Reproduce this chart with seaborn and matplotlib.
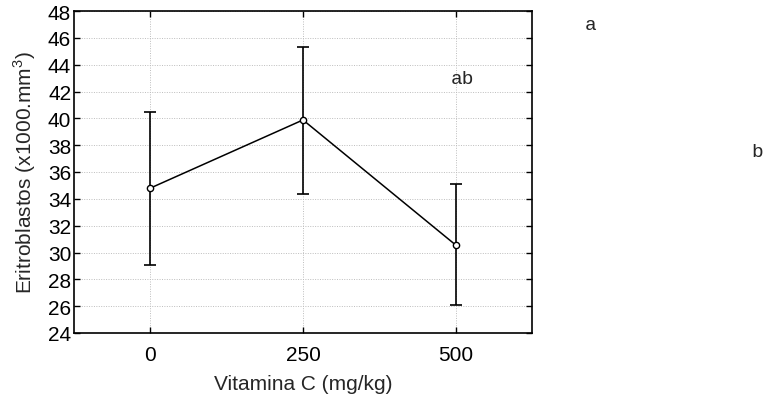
import matplotlib
matplotlib.use("Agg")
import matplotlib.pyplot as plt
import seaborn as sns
import pandas as pd

doses = [0, 250, 500]
means = [34.8, 39.88, 30.56]
err_upper = [40.47, 45.32, 35.1]
err_lower = [29.07, 34.36, 26.09]
letters = ["a", "ab", "b"]

sns.set_theme(style="white")
plt.rcParams["font.family"] = ["Liberation Sans", "DejaVu Sans"]
plt.rcParams["mathtext.fontset"] = "custom"
plt.rcParams["mathtext.rm"] = "Liberation Sans"

df = pd.DataFrame({"dose": doses, "mean": means})

fig = plt.figure(figsize=(7.63, 4.02), dpi=100)
ax = fig.add_axes([74 / 763, 1 - 334 / 402, (532 - 74) / 763, (334 - 12) / 402])

yerr = [[m - lo for m, lo in zip(means, err_lower)], [hi - m for m, hi in zip(means, err_upper)]]
ax.errorbar(doses, means, yerr=yerr, fmt="none", ecolor="black", elinewidth=1.2,
            capsize=4.3, capthick=1.2, zorder=2)
sns.lineplot(data=df, x="dose", y="mean", ax=ax, color="black", linewidth=1.1,
             marker="o", markersize=4.5, markerfacecolor="white",
             markeredgecolor="black", markeredgewidth=1.0, zorder=3)

ax.set_xlim(-125, 625)
ax.set_ylim(24, 48)
ax.set_xticks(doses)
ax.set_xticklabels([str(d) for d in doses])
ax.set_yticks(range(24, 49, 2))
ax.grid(True, color="#bdbdbd", linestyle=(0, (1, 1.5)), linewidth=0.7)
ax.set_axisbelow(True)
for s in ax.spines.values():
    s.set_color("black")
    s.set_linewidth(1.2)
    s.set_visible(True)
ax.tick_params(direction="in", length=4, width=1, colors="black", labelsize=15,
               top=True, right=True, left=True, bottom=True)
ax.tick_params(axis="y", pad=2)
ax.tick_params(axis="x", pad=9)
ax.set_xlabel("Vitamina C (mg/kg)", fontsize=15, labelpad=7)
ax.set_ylabel(r"Eritroblastos (x1000.mm$^{3}$)", fontsize=15, labelpad=7)

pos = [(591, 25), (462, 80), (757, 153)]
for lab, (px, py) in zip(letters, pos):
    fig.text(px / 763, 1 - py / 402, lab, family=["Liberation Mono", "DejaVu Sans Mono"],
             fontsize=14, ha="center", va="center")

fig.savefig("out.png", dpi=100)
